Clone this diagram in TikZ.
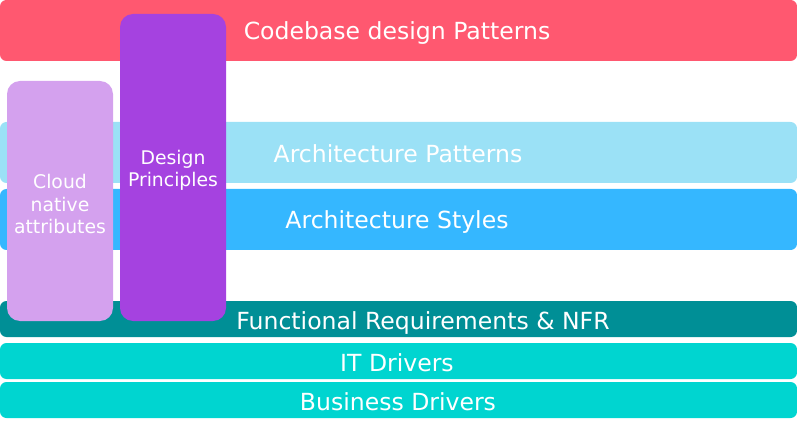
\documentclass[tikz,border=0pt]{standalone}
\usepackage{fontspec}
\setmainfont{DejaVu Sans}
\definecolor{codered}{HTML}{FF5870}
\definecolor{patblue}{HTML}{9BE1F6}
\definecolor{styleblue}{HTML}{35B7FF}
\definecolor{frteal}{HTML}{008F96}
\definecolor{drivercyan}{HTML}{00D5D0}
\definecolor{cloudlilac}{HTML}{D4A1EE}
\definecolor{princippurple}{HTML}{A542E0}
\tikzset{
  layer/.style={rounded corners=0.13cm},
  pillar/.style={rounded corners=0.26cm},
  biglabel/.style={text=white, font=\fontsize{13.4}{16}\selectfont},
  smalllabel/.style={text=white, align=center, font=\fontsize{10.7}{12.8}\selectfont}
}
\begin{document}
\begin{tikzpicture}
\useasboundingbox (0,0) rectangle (15.94,8.6);

\fill[layer, codered] (0,7.38) rectangle (15.94,8.6);
\node[biglabel] (codebase) at (7.94,7.93) {Codebase design Patterns};

\fill[layer, patblue] (0,4.94) rectangle (15.94,6.16);
\node[biglabel] (archpat) at (7.96,5.53) {Architecture Patterns};

\fill[layer, styleblue] (0,3.6) rectangle (15.94,4.82);
\node[biglabel] (archsty) at (7.94,4.16) {Architecture Styles};

\fill[layer, frteal] (0,1.86) rectangle (15.94,2.58);
\node[biglabel] (fnfr) at (8.46,2.13) {Functional Requirements \& NFR};

\fill[layer, drivercyan] (0,1.02) rectangle (15.94,1.74);
\node[biglabel] (itdrv) at (7.94,1.35) {IT Drivers};

\fill[layer, drivercyan] (0,0.24) rectangle (15.94,0.96);
\node[biglabel] (busdrv) at (7.96,0.57) {Business Drivers};

\fill[pillar, cloudlilac] (0.14,2.18) rectangle (2.26,6.98);
\node[smalllabel] (cloud) at (1.2,4.52) {Cloud\\native\\attributes};

\fill[pillar, princippurple] (2.4,2.18) rectangle (4.52,8.32);
\node[smalllabel] (design) at (3.46,5.19) {Design\\Principles};
\end{tikzpicture}
\end{document}
